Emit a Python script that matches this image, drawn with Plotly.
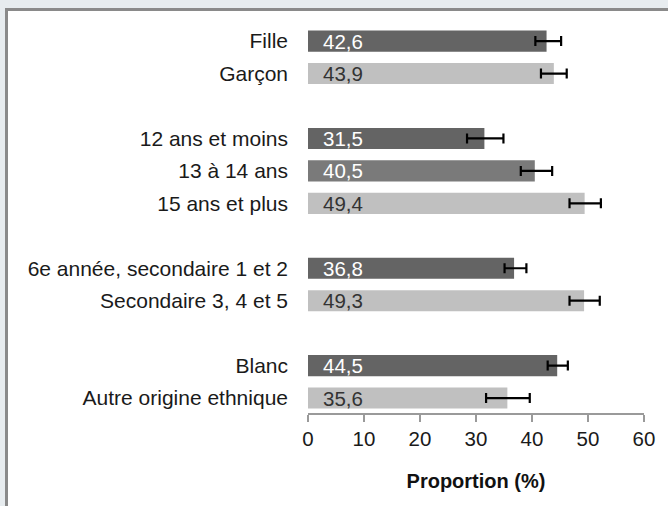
import plotly.graph_objects as go

# Groups of categories (rows of the horizontal bar chart)
groups = [
    ["Fille", "Garçon"],
    ["12 ans et moins", "13 à 14 ans", "15 ans et plus"],
    ["6e année, secondaire 1 et 2", "Secondaire 3, 4 et 5"],
    ["Blanc", "Autre origine ethnique"],
]
values = [42.6, 43.9, 31.5, 40.5, 49.4, 36.8, 49.3, 44.5, 35.6]
ci_low = [40.6, 41.6, 28.4, 38.0, 46.7, 35.1, 46.7, 42.8, 31.8]
ci_high = [45.2, 46.2, 34.9, 43.6, 52.3, 39.0, 52.1, 46.4, 39.6]
shade = ["dark", "light", "dark", "mid", "light", "dark", "light", "dark", "light"]
x_ticks = [0, 10, 20, 30, 40, 50, 60]
x_title = "Proportion (%)"

FILL = {"dark": "#646464", "mid": "#7a7a7a", "light": "#c0c0c0"}
TEXT = {"dark": "white", "mid": "white", "light": "#333333"}
FONT = "Liberation Sans, Arial, sans-serif"

# one empty row between groups
labels, rows = [], []
r = 0
for g in groups:
    for name in g:
        labels.append(name)
        rows.append(r)
        r += 1
    r += 1
last_row = rows[-1]

fig = go.Figure(
    go.Bar(
        x=values,
        y=rows,
        orientation="h",
        width=0.65,
        marker=dict(color=[FILL[s] for s in shade], line=dict(width=0)),
        error_x=dict(
            type="data",
            symmetric=False,
            array=[h - v for h, v in zip(ci_high, values)],
            arrayminus=[v - l for v, l in zip(values, ci_low)],
            color="black",
            thickness=2.2,
            width=5,
        ),
        hoverinfo="skip",
    )
)

for v, y, s in zip(values, rows, shade):
    fig.add_annotation(
        x=0, y=y, xref="x", yref="y",
        text=f"{v:.1f}".replace(".", ","),
        showarrow=False, xanchor="left", xshift=13,
        font=dict(family=FONT, size=20.5, color=TEXT[s]),
    )

L, R, T, B = 308, 24, 20, 93
W, H = 668 - L - R, 506 - T - B

def px_x(p):
    return (p - L) / W

def px_y(p):
    return 1 - (p - T) / H

# white panel with grey frame
fig.add_shape(
    type="rect", xref="paper", yref="paper", layer="below",
    x0=px_x(6.5), x1=px_x(700), y0=px_y(540), y1=px_y(9.5),
    fillcolor="white", line=dict(color="#8a8a8a", width=3),
)

fig.update_layout(
    width=668, height=506,
    margin=dict(l=L, r=R, t=T, b=B, pad=0),
    paper_bgcolor="#e7ecef",
    plot_bgcolor="rgba(0,0,0,0)",
    showlegend=False,
    font=dict(family=FONT, size=20, color="#1a1a1a"),
    xaxis=dict(
        range=[0, 60], tickvals=x_ticks, showgrid=False, zeroline=False,
        showline=True, linecolor="#9a9a9a", linewidth=1.5,
        ticks="outside", ticklen=7, tickcolor="#9a9a9a", tickwidth=1.5,
        tickfont=dict(size=20.5, color="#1a1a1a"),
        title=dict(text=f"<b>{x_title}</b>", font=dict(size=20, color="#111111"), standoff=25),
    ),
    yaxis=dict(
        range=[last_row + 0.46, -0.65], tickvals=rows, ticktext=labels,
        showgrid=False, zeroline=False, showline=False, ticks="",
        ticklabelstandoff=19,
        tickfont=dict(size=21, color="#1a1a1a"),
    ),
)

fig.write_html("out.html")
